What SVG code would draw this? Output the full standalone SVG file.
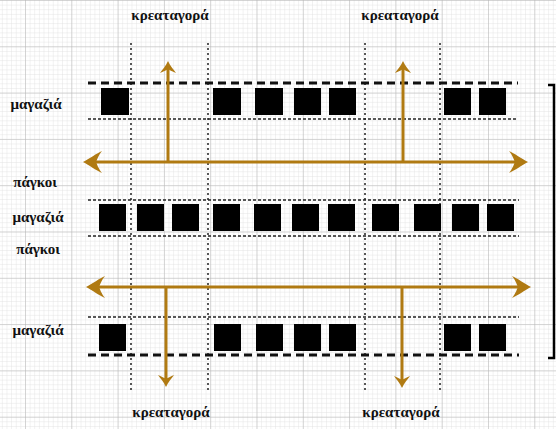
<svg xmlns="http://www.w3.org/2000/svg" width="556" height="429" viewBox="0 0 556 429">
<style>
.lbl{font-family:"Liberation Serif","DejaVu Serif",serif;font-weight:bold;font-size:15px;fill:#111;text-anchor:middle}
.side{font-family:"Liberation Serif","DejaVu Serif",serif;font-weight:bold;font-size:15px;fill:#111;text-anchor:middle}
.shop{fill:#000}
.dash{stroke:#111;stroke-width:3;stroke-dasharray:8 5;fill:none}
.dot{stroke:#222;stroke-width:1.5;stroke-dasharray:3 2;fill:none}
.vdot{stroke:#222;stroke-width:1.5;stroke-dasharray:2 3;fill:none}
.arr{stroke:#B07A12;stroke-width:3;fill:none}
</style>
<defs>
<pattern id="minor" width="4.63" height="4.63" patternUnits="userSpaceOnUse" x="25" y="0">
<path d="M0,0 H4.63 M0,0 V4.63" stroke="#dedede" stroke-width="0.8" fill="none"/>
</pattern>
<pattern id="major" width="46.3" height="46.3" patternUnits="userSpaceOnUse" x="25" y="0">
<path d="M0,0 H46.3 M0,0 V46.3" stroke="#b5b5b5" stroke-width="1" fill="none"/>
</pattern>
<marker id="hbig" markerUnits="userSpaceOnUse" markerWidth="40" markerHeight="40" refX="0" refY="0" viewBox="-30 -20 40 40" orient="auto-start-reverse" overflow="visible">
<path d="M8,0 C2,-3 -6,-9 -11,-11 C-7,-6 -6,-2 -5,0 C-6,2 -7,6 -11,11 C-6,9 2,3 8,0 Z" fill="#B07A12"/>
</marker>
<marker id="hsmall" markerUnits="userSpaceOnUse" markerWidth="30" markerHeight="30" refX="0" refY="0" viewBox="-20 -15 30 30" orient="auto-start-reverse" overflow="visible">
<path d="M5,0 C0,-2 -4,-6 -7,-8 C-5,-4 -4,-1 -3,0 C-4,1 -5,4 -7,8 C-4,6 0,2 5,0 Z" fill="#B07A12"/>
</marker>
</defs>
<rect width="556" height="429" fill="#fff"/>
<rect width="556" height="429" fill="url(#minor)"/>
<rect width="556" height="429" fill="url(#major)"/>

<g id="guides">
<path class="vdot" d="M131,43 V392 M208,43 V392 M365,43 V392 M440,43 V392"/>
<path class="dash" d="M88,83 H518"/>
<path class="dot" d="M88,119 H518"/>
<path class="dot" d="M88,200 H519"/>
<path class="dot" d="M88,236 H519"/>
<path class="dot" d="M88,317 H519"/>
<path class="dash" d="M88,355 H519"/>
</g>

<g id="row1">
<rect class="shop" x="101" y="88" width="28" height="27"/>
<rect class="shop" x="213" y="88" width="28" height="27"/>
<rect class="shop" x="255" y="88" width="28" height="27"/>
<rect class="shop" x="294" y="88" width="27" height="27"/>
<rect class="shop" x="329" y="88" width="27" height="27"/>
<rect class="shop" x="444" y="88" width="27" height="27"/>
<rect class="shop" x="479" y="88" width="27" height="27"/>
</g>
<g id="row2">
<rect class="shop" x="99" y="204" width="27" height="27"/>
<rect class="shop" x="137" y="204" width="27" height="27"/>
<rect class="shop" x="172" y="204" width="27" height="27"/>
<rect class="shop" x="213" y="204" width="27" height="27"/>
<rect class="shop" x="254" y="204" width="27" height="27"/>
<rect class="shop" x="292" y="204" width="27" height="27"/>
<rect class="shop" x="328" y="204" width="27" height="27"/>
<rect class="shop" x="372" y="204" width="27" height="27"/>
<rect class="shop" x="414" y="204" width="27" height="27"/>
<rect class="shop" x="452" y="204" width="27" height="27"/>
<rect class="shop" x="487" y="204" width="27" height="27"/>
</g>
<g id="row3">
<rect class="shop" x="99" y="324" width="27" height="27"/>
<rect class="shop" x="214" y="324" width="27" height="27"/>
<rect class="shop" x="256" y="324" width="27" height="27"/>
<rect class="shop" x="294" y="324" width="27" height="27"/>
<rect class="shop" x="329" y="324" width="27" height="27"/>
<rect class="shop" x="444" y="324" width="27" height="27"/>
<rect class="shop" x="479" y="324" width="27" height="27"/>
</g>

<g id="connectors">
<path class="arr" d="M91,162 H520" marker-start="url(#hbig)" marker-end="url(#hbig)"/>
<path class="arr" d="M94,287 H523" marker-start="url(#hbig)" marker-end="url(#hbig)"/>
<path class="arr" d="M168,162 V66" marker-end="url(#hsmall)"/>
<path class="arr" d="M403,162 V66" marker-end="url(#hsmall)"/>
<path class="arr" d="M166,287 V382" marker-end="url(#hsmall)"/>
<path class="arr" d="M402,287 V383" marker-end="url(#hsmall)"/>
</g>

<g id="bracket">
<path d="M548,85 H554 V358 H548" stroke="#000" stroke-width="2.5" fill="none"/>
</g>

<g id="labels">
<text class="lbl" x="170" y="20">κρεαταγορά</text>
<text class="lbl" x="400" y="20">κρεαταγορά</text>
<text class="lbl" x="171" y="417">κρεαταγορά</text>
<text class="lbl" x="401" y="417">κρεαταγορά</text>
<text class="side" x="36" y="109">μαγαζιά</text>
<text class="side" x="35" y="187">πάγκοι</text>
<text class="side" x="38" y="222">μαγαζιά</text>
<text class="side" x="38" y="254">πάγκοι</text>
<text class="side" x="38" y="335">μαγαζιά</text>
</g>
</svg>
